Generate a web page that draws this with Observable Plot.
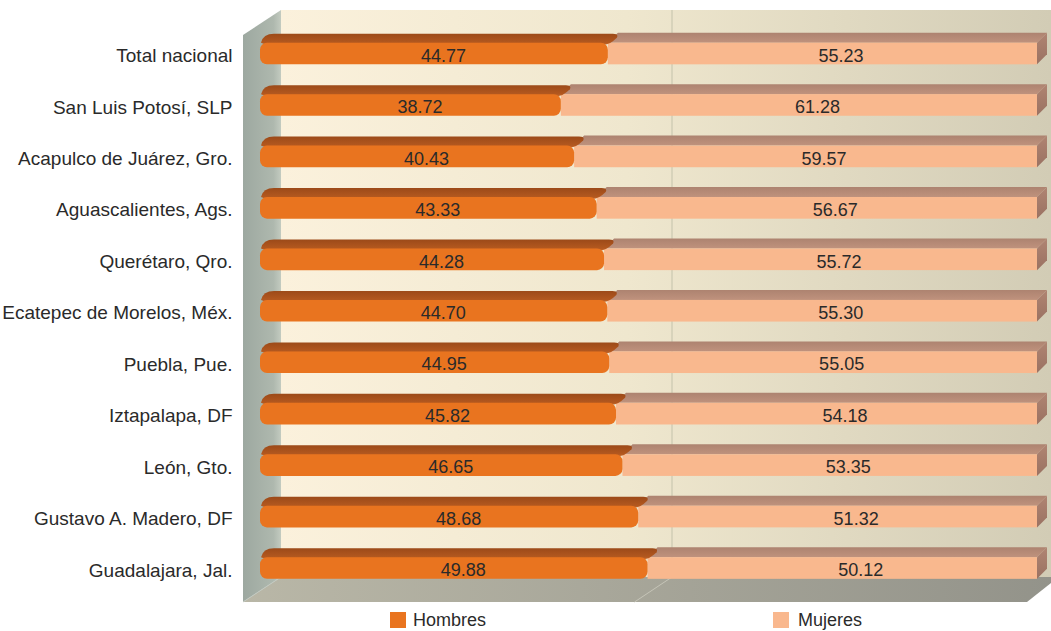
<!DOCTYPE html>
<html>
<head>
<meta charset="utf-8">
<script src="https://cdn.jsdelivr.net/npm/d3@7"></script>
<script src="https://cdn.jsdelivr.net/npm/@observablehq/plot@0.6"></script>
<style>
  body { margin: 0; background: #fff; font-family: "Liberation Sans", Arial, sans-serif; }
  #chart svg { display: block; }
  #legend { position: relative; width: 1051px; height: 27px; font-size: 18px; color: #2a2a2a; }
  #legend .sw { position: absolute; top: 8px; width: 16px; height: 16px; }
  #legend .lb { position: absolute; top: 6px; line-height: 20px; white-space: nowrap; }
</style>
</head>
<body>
<div id="chart"></div>
<div id="legend"></div>
<script>
// ---- data ----
const categories = [
  "Total nacional",
  "San Luis Potosí, SLP",
  "Acapulco de Juárez, Gro.",
  "Aguascalientes, Ags.",
  "Querétaro, Qro.",
  "Ecatepec de Morelos, Méx.",
  "Puebla, Pue.",
  "Iztapalapa, DF",
  "León, Gto.",
  "Gustavo A. Madero, DF",
  "Guadalajara, Jal."
];
const hombres = [44.77, 38.72, 40.43, 43.33, 44.28, 44.70, 44.95, 45.82, 46.65, 48.68, 49.88];
const mujeres = [55.23, 61.28, 59.57, 56.67, 55.72, 55.30, 55.05, 54.18, 53.35, 51.32, 50.12];
const seriesNames = ["Hombres", "Mujeres"];

const rows = categories.map((c, i) => ({cat: c, i, h: hombres[i], m: mujeres[i]}));

// ---- style ----
const DX = 10, DY = 10, INSET = 14.9;
const C = {
  hFront: "#e9741f", hTop: "#a9531d",
  mFront: "#f9b88e", mTop: "#b78b76", mSide: "#a47b69",
  text: "#2a2a2a"
};

function grad(defs, id, stops, horizontal) {
  const lg = defs.append("linearGradient").attr("id", id)
    .attr("x1", 0).attr("y1", 0).attr("x2", horizontal ? 1 : 0).attr("y2", horizontal ? 0 : 1);
  stops.forEach(([o, c]) => lg.append("stop").attr("offset", o).attr("stop-color", c));
}
const pts = a => a.map(p => p.join(",")).join(" ");

// 3D box: back wall, left wall, floor, gridline
function box(index, scales, values, dims) {
  const x = scales.x, y = scales.y;
  const X0 = x(0), X50 = x(50), X100 = x(100);
  const Y0 = y(0), Y10 = y(10);
  const W = dims.width;
  const g = d3.create("svg:g");
  const defs = g.append("defs");
  grad(defs, "gBack", [[0, "#fbf1dc"], [0.45, "#efe7ce"], [1, "#d2ccb5"]], true);
  grad(defs, "gLeft", [[0, "#9da8a0"], [0.8, "#aeb8ae"], [1, "#c3cbc0"]], true);
  grad(defs, "gFloor", [[0, "#b9b7a7"], [1, "#93938a"]], true);
  grad(defs, "gHTop", [[0, "#9c4a19"], [0.8, "#b3581f"], [1, "#c7692c"]], false);
  grad(defs, "gMTop", [[0, "#ad8370"], [1, "#bf927d"]], false);
  grad(defs, "gMSide", [[0, "#b08472"], [1, "#9a7262"]], false);

  const backL = X0 + 21, frontL = X0 - 17;
  const topB = Y0 - 43.5, topF = Y0 - 18.5;
  const floorB = Y10 + 9, floorF = Y10 + 34;

  g.append("rect").attr("x", backL).attr("y", topB)
    .attr("width", W - backL).attr("height", floorB - topB).attr("fill", "url(#gBack)");
  g.append("line").attr("x1", X50 + 23.5).attr("x2", X50 + 23.5).attr("y1", topB).attr("y2", floorB)
    .attr("stroke", "#c4c2ab").attr("stroke-width", 1);
  g.append("polygon").attr("points", pts([[frontL, floorF], [backL, floorB], [W, floorB], [W, floorB + 6], [X100 - 10, floorF]]))
    .attr("fill", "url(#gFloor)");
  g.append("line").attr("x1", X50 + 23.5).attr("y1", floorB).attr("x2", X50 - 14).attr("y2", floorF)
    .attr("stroke", "#c6c5b8").attr("stroke-width", 1);
  g.append("polygon").attr("points", pts([[frontL, topF], [backL, topB], [backL, floorB], [frontL, floorF]]))
    .attr("fill", "url(#gLeft)");
  g.append("line").attr("x1", frontL).attr("y1", floorF).attr("x2", backL).attr("y2", floorB)
    .attr("stroke", "#c2c9c0").attr("stroke-width", 1);
  return g.node();
}

// top / side faces of bars
function faces(series) {
  return (index, scales) => {
    const x = scales.x, y = scales.y;
    const g = d3.create("svg:g");
    rows.forEach(d => {
      const top = y(d.i - 0.5) + INSET, bot = y(d.i + 0.5) - INSET;
      if (series === "m") {
        const a = x(d.h), b = x(100);
        g.append("polygon").attr("points", pts([[a, top], [b, top], [b + DX, top - DY], [a + DX, top - DY]]))
          .attr("fill", "url(#gMTop)");
        g.append("polygon").attr("points", pts([[b, top], [b + DX, top - DY], [b + DX, bot - DY], [b, bot]]))
          .attr("fill", "url(#gMSide)");
      } else {
        const a = x(0), b = x(d.h);
        const yt = top - DY + 1, yb = top + 2;
        // rounded slab on top of the orange bar
        g.append("path")
          .attr("d", `M${a + 6},${yb} L${b - 4},${yb} Q${b + 2},${yb} ${b + DX - 1},${yt + 4} Q${b + DX + 1},${yt} ${b + DX - 5},${yt} L${a + DX + 4},${yt} Q${a + 3},${yt} ${a + 1},${yb - 2} Z`)
          .attr("fill", "url(#gHTop)");
      }
    });
    return g.node();
  };
}

const chart = Plot.plot({
  width: 1051,
  height: 604,
  style: {fontFamily: "'Liberation Sans', Arial, sans-serif", background: "#fff"},
  x: {domain: [0, 100], range: [260, 1037], axis: null},
  y: {domain: [0, 10], range: [53.5, 568], axis: null},
  marks: [
    box,
    faces("m"),
    Plot.rect(rows, {x1: d => d.h, x2: 100, y1: d => d.i - 0.5, y2: d => d.i + 0.5,
      insetTop: INSET, insetBottom: INSET, fill: C.mFront}),
    faces("h"),
    Plot.rect(rows, {x1: 0, x2: d => d.h, y1: d => d.i - 0.5, y2: d => d.i + 0.5,
      insetTop: INSET, insetBottom: INSET, fill: C.hFront, rx: 7}),
    Plot.text(rows, {x: d => d.h / 2, y: "i", text: d => d.h.toFixed(2), dx: 9, dy: 2,
      fontSize: 18, fill: C.text}),
    Plot.text(rows, {x: d => d.h + d.m / 2, y: "i", text: d => d.m.toFixed(2), dx: 18, dy: 2,
      fontSize: 18, fill: C.text}),
    Plot.text(rows, {x: d => 0, y: "i", text: "cat", textAnchor: "end", dx: -28, dy: 2,
      fontSize: 19, fill: C.text})
  ]
});
document.getElementById("chart").appendChild(chart);

// legend
const legend = d3.select("#legend");
const legendItems = [
  {name: seriesNames[0], color: C.hFront, sx: 390, tx: 413},
  {name: seriesNames[1], color: C.mFront, sx: 773, tx: 798}
];
legendItems.forEach(it => {
  legend.append("div").attr("class", "sw").style("left", it.sx + "px").style("background", it.color);
  legend.append("div").attr("class", "lb").style("left", it.tx + "px").text(it.name);
});
</script>
</body>
</html>
